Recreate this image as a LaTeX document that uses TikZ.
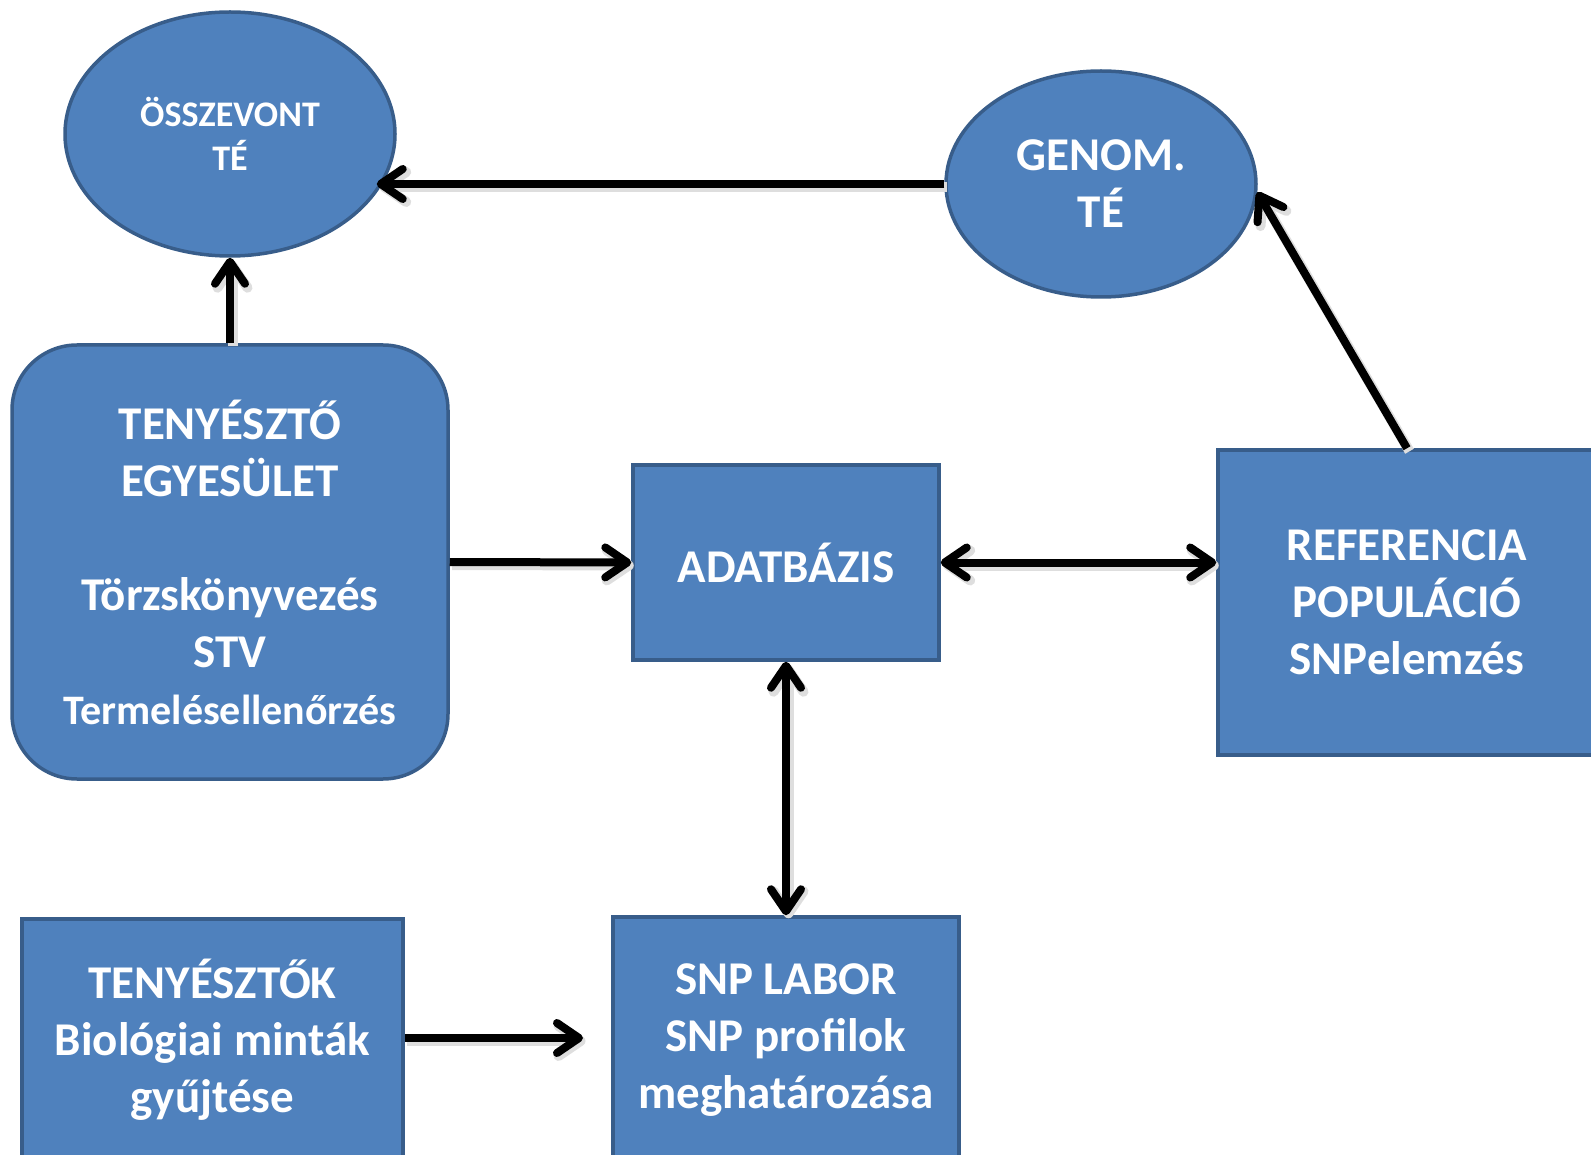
\documentclass[tikz,border=0pt]{standalone}
\usepackage{fontspec}
\setmainfont{Carlito}
\usetikzlibrary{shapes.geometric,arrows.meta}
\definecolor{boxfill}{HTML}{4F81BD}
\definecolor{boxline}{HTML}{385D8A}
\begin{document}
\begin{tikzpicture}[x=1pt,y=-1pt,
  blk/.style={draw=boxline,fill=boxfill,line width=3.5pt,text=white,align=center,
    inner sep=0pt,font=\bfseries\fontsize{47}{57}\selectfont},
  rect/.style={blk,rectangle},
  oval/.style={blk,ellipse},
  tip/.tip={Straight Barb[length=22pt,width=30pt,round]},
  shad/.style={preaction={draw=black!13,line width=10pt,transform canvas={shift={(2.5pt,-3pt)}}}},
  arr/.style={shad,line width=8pt,-tip},
  darr/.style={shad,line width=8pt,tip-tip}]
\useasboundingbox (0,0) rectangle (1591,1155);
\node[oval,minimum width=330pt,minimum height=244pt,font=\bfseries\fontsize{36}{44}\selectfont] (ossz) at (230,134) {ÖSSZEVONT\\TÉ};
\node[oval,minimum width=310pt,minimum height=226pt] (genom) at (1101,184) {GENOM.\\TÉ};
\node[rect,rounded corners=65pt,minimum width=436pt,minimum height=434pt] (te) at (230,562)
  {TENYÉSZTŐ\\EGYESÜLET\\[57pt]Törzskönyvezés\\STV\\{\fontsize{42}{57}\selectfont Termelésellenőrzés}};
\node[rect,minimum width=306pt,minimum height=195pt] (adat) at (786,562.5) {ADATBÁZIS};
\node[rect,minimum width=378pt,minimum height=305pt] (ref) at (1407,602.5) {REFERENCIA\\POPULÁCIÓ\\SNPelemzés};
\node[rect,minimum width=381pt,minimum height=242pt] (tk) at (212.5,1040) {TENYÉSZTŐK\\Biológiai minták\\gyűjtése};
\node[rect,minimum width=346pt,minimum height=246pt] (snp) at (786,1040) {SNP LABOR\\SNP profilok\\meghatározása};
\coordinate (tkend) at (583,1038);
\coordinate (osszin) at ([xshift=-6pt]ossz.-18);
\draw[arr] (genom.west) -- (genom.west -| osszin);
\draw[arr] (te.north) -- (ossz.south);
\draw[arr] (ref.north) -- (genom.-3);
\draw[arr] (te.east) -- (adat.west);
\draw[darr] (adat.east) -- (adat.east -| ref.west);
\draw[darr] (adat.south) -- (snp.north);
\draw[arr] (tk.east |- tkend) -- (tkend);
\end{tikzpicture}
\end{document}
